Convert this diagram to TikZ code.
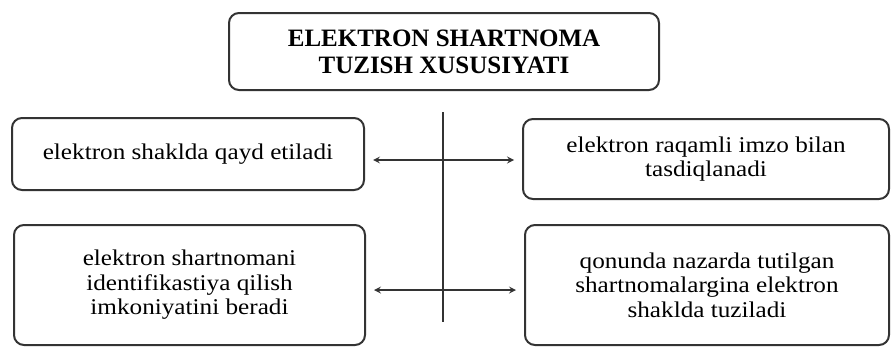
\documentclass[tikz,border=0pt]{standalone}
\usepackage{fontspec}
\setmainfont{Liberation Serif}
\newfontfamily\bodyfont[FakeStretch=1.12]{Liberation Serif}
\usetikzlibrary{arrows}
\newlength{\du}
\setlength{\du}{10pt}

\begin{document}
\begin{tikzpicture}
\pgftransformxscale{1.000000}
\pgftransformyscale{-1.000000}
\definecolor{dialinecolor}{rgb}{0.200000, 0.200000, 0.200000}
\tikzset{
  box/.style={draw=dialinecolor, line width=0.200000\du, rounded corners=1.000000\du,
    inner sep=0pt, align=center, text=black,
    font=\bodyfont\fontsize{22.5}{24.5}\selectfont},
  link/.style={draw=dialinecolor, line width=0.200000\du, -stealth, shorten >=0.800000\du}
}
\useasboundingbox (0.000000\du,0.000000\du) rectangle (89.200000\du,34.800000\du);
% title
\node[box, minimum width=43.000000\du, minimum height=7.700000\du,
  font=\bfseries\fontsize{25}{27}\selectfont] (title) at (44.400000\du,5.150000\du)
  {ELEKTRON SHARTNOMA\\TUZISH XUSUSIYATI};
% boxes
\node[box, minimum width=35.200000\du, minimum height=7.200000\du] (lt) at (18.800000\du,15.400000\du)
  {elektron shaklda qayd etiladi};
\node[box, minimum width=36.600000\du, minimum height=8.000000\du] (rt) at (70.600000\du,15.900000\du)
  {elektron raqamli imzo bilan\\tasdiqlanadi};
\node[box, minimum width=35.100000\du, minimum height=12.000000\du] (lb) at (18.950000\du,28.500000\du)
  {elektron shartnomani\\identifikastiya qilish\\imkoniyatini beradi};
\node[box, minimum width=36.400000\du, minimum height=12.000000\du] (rb) at (70.700000\du,28.500000\du)
  {qonunda nazarda tutilgan\\shartnomalargina elektron\\shaklda tuziladi};
% spine
\coordinate (top) at (44.300000\du,11.200000\du);
\coordinate (bot) at (44.300000\du,32.200000\du);
\coordinate (jt) at (44.300000\du,16.000000\du);
\coordinate (jb) at (44.300000\du,29.000000\du);
\draw[draw=dialinecolor, line width=0.200000\du] (top)--(bot);
\draw[link] (jt)--(jt -| lt.east);
\draw[link] (jt)--(jt -| rt.west);
\draw[link] (jb)--(jb -| lb.east);
\draw[link] (jb)--(jb -| rb.west);
\end{tikzpicture}
\end{document}
